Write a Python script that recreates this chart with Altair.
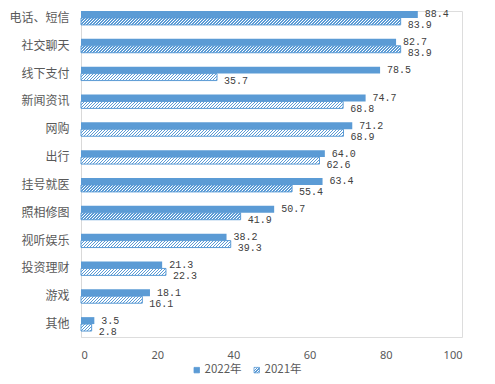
import json
import altair as alt

# ---------------- data ----------------
categories = ["电话、短信", "社交聊天", "线下支付", "新闻资讯", "网购", "出行",
              "挂号就医", "照相修图", "视听娱乐", "投资理财", "游戏", "其他"]
values_2022 = [88.4, 82.7, 78.5, 74.7, 71.2, 64.0, 63.4, 50.7, 38.2, 21.3, 18.1, 3.5]
values_2021 = [83.9, 83.9, 35.7, 68.8, 68.9, 62.6, 55.4, 41.9, 39.3, 22.3, 16.1, 2.8]
years = ["2022年", "2021年"]
x_ticks = [0, 20, 40, 60, 80, 100]

# ---------------- style ----------------
BLUE = "#5B9BD5"
PLOT_W = 381
PLOT_H = 326
BAR_H = 7.0


def hatch(w, h, period=3.0, lw=1.3):
    """Diagonal '/' hatch as a linear gradient in bounding-box units."""
    w = max(w, 1.0)
    L = w + h
    k = L * w / (w * w + h * h)
    stops = []
    i = 0
    while i * period / L <= 1.0:
        a = min(i * period / L, 1.0)
        b = min((i * period + lw) / L, 1.0)
        c = min((i + 1) * period / L, 1.0)
        stops += [
            {"offset": a, "color": BLUE},
            {"offset": b, "color": BLUE},
            {"offset": b, "color": "#ffffff"},
            {"offset": c, "color": "#ffffff"},
        ]
        i += 1
    return {"gradient": "linear", "x1": 0, "y1": 0, "x2": k, "y2": k * h / w, "stops": stops}


records = []
for c, v in zip(categories, values_2022):
    records.append({"cat": c, "year": years[0], "value": v, "grad": BLUE})
for c, v in zip(categories, values_2021):
    records.append({"cat": c, "year": years[1], "value": v,
                    "grad": hatch(v / 100.0 * PLOT_W, BAR_H)})

data = alt.Data(values=records)

legend_grad = json.dumps(hatch(6, 6, period=3.0, lw=1.3))

x_enc = alt.X("value:Q", scale=alt.Scale(domain=[0, 100], nice=False),
              axis=alt.Axis(values=x_ticks, title=None, grid=False, ticks=False,
                            domain=False, labelFont="Noto Sans", labelFontSize=11,
                            labelColor="#595959", labelPadding=12))
y_enc = alt.Y("cat:N", sort=categories,
              scale=alt.Scale(paddingInner=0.5, paddingOuter=0.107, align=0),
              axis=alt.Axis(title=None, ticks=False, domainColor="#D9D9D9",
                            domainWidth=1, labelFont="Noto Sans CJK SC",
                            labelFontSize=12, labelColor="#595959", labelPadding=12))
yoff_enc = alt.YOffset("year:N", sort=years,
                       scale=alt.Scale(domain=years, paddingInner=0, paddingOuter=0))

base = alt.Chart(data)

bars22 = base.transform_filter(alt.datum.year == years[0]).mark_bar(
    color=BLUE).encode(x=x_enc, y=y_enc, yOffset=yoff_enc)

bars21 = base.transform_filter(alt.datum.year == years[1]).mark_bar(
    stroke=BLUE, strokeWidth=1).encode(
    x=x_enc, y=y_enc, yOffset=yoff_enc,
    fill=alt.Fill("grad:N", scale=None, legend=None))

text22 = base.transform_filter(alt.datum.year == years[0]).mark_text(
    align="left", baseline="middle", dx=7, dy=0, font="Liberation Mono",
    fontSize=10, color="#404040").encode(
    x=x_enc, y=y_enc, yOffset=yoff_enc, text=alt.Text("value:Q", format=".1f"))

text21 = base.transform_filter(alt.datum.year == years[1]).mark_text(
    align="left", baseline="middle", dx=7, dy=4, font="Liberation Mono",
    fontSize=10, color="#404040").encode(
    x=x_enc, y=y_enc, yOffset=yoff_enc, text=alt.Text("value:Q", format=".1f"))

legend_layer = base.transform_filter("false").mark_point(
    shape="square", filled=True, opacity=1).encode(
    color=alt.Color("year:N",
                    scale=alt.Scale(domain=years, range=[BLUE, alt.ExprRef(legend_grad)]),
                    legend=alt.Legend(title=None, orient="none", direction="horizontal",
                                      legendX=110, legendY=353, symbolType="square",
                                      symbolSize=30, symbolStrokeColor=BLUE,
                                      symbolStrokeWidth=0.8,
                                      labelFont="Noto Sans CJK SC", labelFontSize=11.5,
                                      labelColor="#595959", labelOffset=2,
                                      columnPadding=9)))

chart = alt.layer(bars22, bars21, text22, text21, legend_layer).properties(
    width=PLOT_W, height=PLOT_H,
    padding={"left": 0, "top": 1, "right": 5, "bottom": 5},
).configure_view(stroke=None).configure(background="white")

chart.save("out.html", embed_options={"renderer": "svg", "actions": False})
